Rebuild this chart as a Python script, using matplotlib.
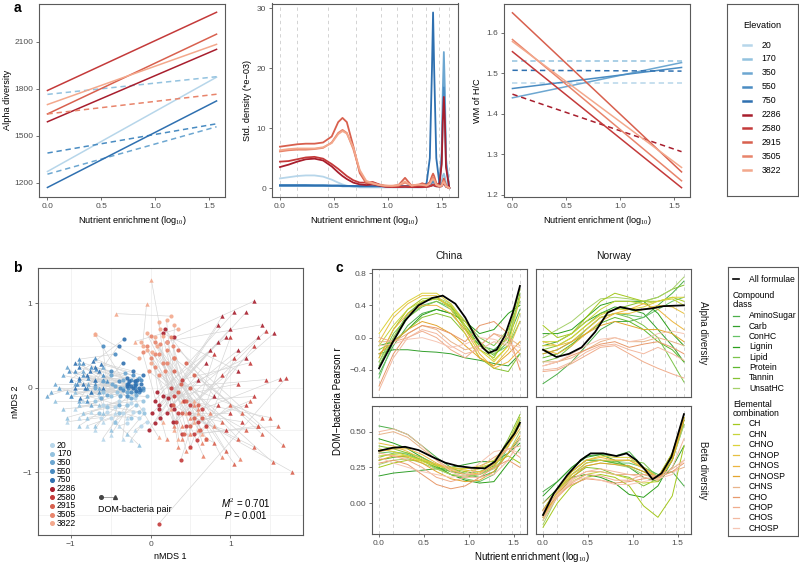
import matplotlib.pyplot as plt
from matplotlib.lines import Line2D
from matplotlib.collections import LineCollection

plt.rcParams['font.family'] = ['Liberation Sans', 'DejaVu Sans']
plt.rcParams['mathtext.fontset'] = 'custom'
plt.rcParams['mathtext.rm'] = 'Liberation Serif'
plt.rcParams['mathtext.it'] = 'Liberation Sans:italic'
plt.rcParams['mathtext.bf'] = 'Liberation Sans:bold'

W, H = 799, 564

# ---------------- data ----------------
elevations = ['20', '170', '350', '550', '750', '2286', '2580', '2915', '3505', '3822']
elev_colors = ['#b7d6ea', '#93c2df', '#6da7d1', '#4a8cc2', '#2f70b0',
               '#a81e2d', '#c43a3a', '#d8604e', '#e8846b', '#f3a88c']

# panel a: fitted lines (value at lowest / highest enrichment)
fit_x = [0.0, 1.57]
alpha_start = [1272, 1765, 1255, 1390, 1170, 1590, 1790, 1640, 1640, 1700]
alpha_end = [1875, 1878, 1558, 1577, 1723, 2053, 2290, 2150, 1766, 2085]
alpha_signif = [True, False, False, False, True, True, True, True, False, True]

hc_start = [1.475, 1.531, 1.439, 1.462, 1.507, 1.448, 1.553, 1.649, 1.583, 1.578]
hc_end = [1.475, 1.531, 1.526, 1.514, 1.505, 1.306, 1.217, 1.256, 1.234, 1.267]
hc_signif = [False, False, True, True, False, False, True, True, True, True]

# enrichment levels (dashed guides)
level_x = [0, 0.16, 0.45, 0.705, 0.94, 1.09, 1.225, 1.355, 1.477, 1.568]

# standardized density (*e-03)
dens_x = [0, .08, .16, .24, .32, .40, .48, .54, .58, .62, .68, .74, .80, .86, .92, .98,
          1.04, 1.10, 1.16, 1.22, 1.28, 1.32, 1.36, 1.39, 1.41, 1.42, 1.43, 1.45, 1.48,
          1.50, 1.51, 1.52, 1.53, 1.54, 1.57]
dens_y = [
    [1.6, 1.8, 2.0, 2.1, 2.1, 1.9, 1.4, 0.9, 0.6, 0.4, 0.2, 0.1, 0.1, 0.1, 0.1, 0.1, 0.1, 0.1,
     0.1, 0.1, 0.1, 0.1, 0.2, 0.3, 0.4, 0.5, 0.4, 0.2, 0.2, 0.3, 0.5, 0.6, 0.4, 0.2, 0.0],
    [0.4, 0.4, 0.4, 0.4, 0.4, 0.4, 0.35, 0.35, 0.3, 0.3, 0.3, 0.3, 0.3, 0.3, 0.3, 0.3, 0.3, 0.3,
     0.3, 0.3, 0.3, 0.3, 0.4, 0.6, 1.0, 1.2, 1.0, 0.5, 0.6, 1.2, 2.0, 2.4, 1.8, 0.8, 0.0],
    [0.4, 0.4, 0.4, 0.4, 0.4, 0.4, 0.35, 0.35, 0.3, 0.3, 0.3, 0.3, 0.3, 0.3, 0.3, 0.3, 0.3, 0.3,
     0.3, 0.3, 0.3, 0.3, 0.3, 0.4, 0.5, 0.6, 0.5, 0.4, 0.9, 6.0, 16.0, 22.7, 16.0, 5.0, 0.0],
    [0.5, 0.5, 0.5, 0.5, 0.45, 0.45, 0.4, 0.4, 0.4, 0.35, 0.35, 0.3, 0.3, 0.3, 0.3, 0.3, 0.3, 0.3,
     0.3, 0.3, 0.3, 0.3, 0.3, 0.5, 0.9, 1.3, 0.9, 0.4, 0.8, 4.5, 12.0, 16.8, 12.0, 4.0, 0.0],
    [0.4, 0.4, 0.4, 0.4, 0.4, 0.4, 0.4, 0.4, 0.35, 0.35, 0.35, 0.3, 0.3, 0.3, 0.3, 0.3, 0.3, 0.3,
     0.3, 0.3, 0.3, 0.4, 0.8, 5.0, 20.0, 29.3, 20.0, 5.0, 0.6, 0.5, 0.9, 1.2, 0.8, 0.3, 0.0],
    [3.5, 3.9, 4.4, 4.8, 4.9, 4.6, 3.6, 2.6, 2.0, 1.5, 0.9, 0.6, 0.5, 0.6, 0.4, 0.2, 0.15, 0.15,
     0.2, 0.15, 0.15, 0.15, 0.2, 0.3, 0.4, 0.5, 0.4, 0.3, 0.8, 4.0, 11.0, 15.2, 11.0, 3.5, 0.0],
    [4.4, 4.5, 4.8, 5.1, 5.2, 4.9, 4.0, 3.2, 2.6, 2.0, 1.3, 0.9, 0.9, 1.0, 0.6, 0.3, 0.2, 0.2,
     0.3, 0.2, 0.3, 0.2, 0.2, 0.3, 0.5, 0.6, 0.5, 0.3, 0.2, 0.3, 0.6, 0.8, 0.5, 0.2, 0.0],
    [6.9, 7.1, 7.3, 7.4, 7.4, 7.6, 8.6, 11.0, 11.7, 11.0, 7.0, 2.5, 0.8, 0.9, 0.5, 0.3, 0.3, 0.5,
     1.7, 0.4, 0.5, 0.8, 0.5, 1.0, 2.0, 2.4, 2.0, 0.8, 0.4, 0.5, 1.0, 1.6, 1.0, 0.4, 0.0],
    [6.1, 6.3, 6.4, 6.4, 6.5, 6.7, 7.6, 9.2, 9.7, 9.2, 6.5, 2.8, 1.0, 0.7, 0.5, 0.4, 0.3, 0.4,
     0.9, 0.4, 0.5, 0.6, 0.4, 0.8, 1.6, 1.8, 1.5, 0.6, 0.3, 0.4, 0.9, 1.2, 0.8, 0.3, 0.0],
    [6.3, 6.5, 6.6, 6.6, 6.6, 6.8, 7.5, 9.0, 9.5, 9.1, 6.8, 3.0, 1.2, 0.8, 0.5, 0.4, 0.4, 0.5,
     1.1, 0.4, 0.6, 0.5, 0.4, 0.7, 1.3, 1.5, 1.3, 0.5, 0.3, 0.4, 0.8, 1.0, 0.7, 0.3, 0.0],
]

# panel b: nMDS coordinates, one row per elevation (DOM = circles, bacteria = triangles)
dom_x = [
    [-0.45, -0.35, -0.25, -0.15, -0.55, -0.3, -0.1, -0.2, -0.4, -0.05, -0.6, -0.28,
     -0.5, -0.22, -0.38, -0.12, -0.62, -0.3],
    [-0.5, -0.3, -0.2, -0.1, -0.4, -0.6, -0.15, -0.05, -0.35, -0.25, -0.7, -0.45,
     -0.55, -0.28, -0.18, -0.42, -0.08, -0.65],
    [-0.45, -0.3, -0.2, -0.55, -0.35, -0.1, -0.25, -0.6, -0.4, -0.15, -0.7, -0.5,
     -0.38, -0.48, -0.28, -0.18, -0.62, -0.32],
    [-0.3, -0.2, -0.25, -0.15, -0.35, -0.22, -0.4, -0.18, -0.3, -0.5, -0.45, -0.12,
     -0.28, -0.2, -0.1, -0.38, -0.25, -0.6],
    [-0.25, -0.2, -0.15, -0.3, -0.18, -0.28, -0.12, -0.35, -0.4, -0.22, -0.33, -0.1,
     -0.22, -0.17, -0.27, -0.13, -0.2, -0.3],
    [0.05, 0.1, 0.15, 0.2, 0.08, 0.25, 0.18, 0.3, 0.12, 0.2, -0.02, 0.28,
     0.1, 0.22, 0.02, 0.3, 0.15, 0.05],
    [0.35, 0.45, 0.5, 0.3, 0.55, 0.4, 0.6, 0.25, 0.65, 0.5, 0.1, 0.38,
     0.4, 0.48, 0.58, 0.32, 0.7, 0.42],
    [0.35, 0.45, 0.3, 0.55, 0.4, 0.5, 0.62, 0.45, 0.28, 0.7, 0.35, 0.55,
     0.5, 0.38, 0.6, 0.42, 0.65, 0.3],
    [0.0, 0.1, 0.05, 0.15, -0.05, 0.2, 0.1, 0.25, -0.1, 0.05, 0.3, 0.18,
     0.05, 0.2, -0.02, 0.12, 0.28, 0.0],
    [-0.05, 0.05, 0.12, -0.1, 0.2, 0.0, 0.25, -0.15, 0.08, -0.7, 0.15, 0.3,
     0.1, -0.05, 0.2, 0.02, 0.35, -0.12],
]
dom_y = [
    [-0.22, -0.3, -0.18, -0.35, -0.28, -0.42, -0.25, -0.12, -0.15, -0.4, -0.2, -0.05,
     -0.35, -0.28, -0.08, -0.45, -0.35, -0.2],
    [-0.1, -0.2, -0.05, -0.15, -0.3, -0.05, -0.28, -0.1, 0.0, -0.35, -0.15, -0.4,
     -0.22, -0.1, -0.2, -0.05, -0.3, -0.3],
    [0.02, -0.05, 0.05, -0.08, 0.1, -0.02, -0.12, 0.08, -0.2, 0.12, 0.0, 0.15,
     -0.1, 0.05, 0.05, -0.08, -0.12, 0.18],
    [0.05, 0.0, 0.1, -0.05, -0.02, 0.15, 0.08, 0.05, -0.1, 0.2, 0.4, 0.1,
     0.0, 0.08, 0.0, 0.0, -0.05, 0.5],
    [0.02, 0.08, 0.0, 0.12, -0.03, 0.05, 0.05, 0.3, 0.5, 0.2, 0.58, 0.15,
     0.0, 0.1, 0.08, -0.02, 0.04, 0.02],
    [-0.15, -0.25, -0.1, -0.3, -0.05, -0.2, 0.7, 0.6, -0.35, 0.55, -0.5, -0.4,
     -0.2, -0.12, -0.3, -0.25, 0.65, -0.42],
    [-0.3, -0.45, -0.2, -0.1, -0.55, 0.1, -0.4, 0.0, -0.25, -0.7, -1.61, -0.85,
     -0.55, -0.3, -0.62, -0.4, -0.45, -0.15],
    [-0.05, -0.15, 0.2, -0.35, -0.3, 0.0, -0.5, 0.3, -0.2, -0.6, 0.45, 0.15,
     -0.45, 0.05, -0.2, -0.55, -0.35, 0.35],
    [0.35, 0.4, 0.25, 0.3, 0.5, 0.45, 0.15, 0.6, 0.42, 0.55, 0.35, 0.2,
     0.4, 0.3, 0.2, 0.52, 0.5, 0.62],
    [0.45, 0.6, 0.7, 0.5, 0.8, 0.3, 0.85, 0.35, 0.5, 0.64, 0.62, 0.75,
     0.78, 0.65, 0.55, 0.42, 0.7, 0.55],
]
bac_x = [
    [-0.75, -0.6, -0.5, -0.85, -0.7, -0.4, -0.3, -0.55, -0.9, -0.2, -0.65, -0.35,
     -0.8, -0.45, -0.95, -0.25, -1.05, -0.6],
    [-1.0, -0.9, -0.75, -1.1, -0.8, -0.6, -0.65, -0.95, -0.5, -0.85, -1.2, -0.15,
     -1.05, -0.7, -0.45, -1.15, -0.3, -0.9],
    [-1.1, -0.95, -1.25, -0.85, -0.8, -1.05, -0.7, -0.9, -1.15, -0.75, -0.6, -1.3,
     -1.0, -1.2, -0.9, -0.65, -1.05, -0.78],
    [-0.9, -0.8, -0.85, -0.95, -0.7, -0.75, -1.0, -0.65, -0.6, -0.8, -0.9, -0.7,
     -0.85, -0.68, -0.92, -0.78, -1.02, -0.55],
    [-0.85, -0.8, -0.95, -0.7, -0.75, -0.9, -0.65, -0.6, -0.88, -0.72, -1.0, -0.62,
     -0.82, -0.7, -0.9, -0.76, -0.6, -0.95],
    [1.05, 0.85, 1.2, 0.7, 0.95, 1.1, 0.8, 1.3, 0.6, 1.4, 0.9, 1.55,
     1.0, 1.2, 0.75, 1.35, 1.1, 0.85],
    [1.0, 1.2, 0.9, 1.1, 1.35, 1.25, 0.95, 1.45, 1.62, 1.0, 1.7, 0.8,
     1.3, 1.15, 0.85, 1.45, 1.05, 1.3],
    [1.2, 1.5, 1.1, 1.3, 0.9, 1.53, 1.0, 1.4, 1.77, 0.8, 1.66, 1.15,
     1.25, 1.4, 0.95, 1.6, 1.05, 1.35],
    [0.5, 0.6, 0.4, 0.66, 0.3, 0.89, 0.55, 0.65, 0.2, 1.12, 0.75, 0.45,
     0.4, 0.6, 0.8, 0.35, 0.5, 0.7],
    [0.4, 0.55, 0.01, -0.05, 0.35, 0.6, -0.43, -0.7, 0.7, 0.1, 0.5, 0.25,
     0.3, 0.45, 0.65, 0.15, -0.2, 0.55],
]
bac_y = [
    [-0.28, -0.4, -0.56, -0.15, -0.5, -0.45, -0.35, -0.2, -0.35, -0.5, -0.1, -0.6,
     -0.45, -0.3, -0.25, -0.62, -0.4, -0.6],
    [-0.1, -0.2, -0.05, -0.25, -0.35, -0.3, -0.2, -0.05, -0.5, -0.3, -0.15, -0.67,
     -0.35, -0.45, -0.4, 0.0, -0.55, -0.45],
    [0.15, 0.05, -0.05, 0.2, -0.1, -0.05, 0.1, 0.3, 0.0, -0.2, 0.25, -0.1,
     0.1, 0.05, -0.15, 0.0, 0.25, 0.05],
    [0.1, 0.0, 0.3, 0.2, 0.05, 0.25, -0.1, -0.05, 0.15, -0.15, 0.34, 0.35,
     0.15, 0.22, 0.05, 0.12, 0.2, 0.08],
    [0.05, 0.15, 0.0, 0.1, -0.05, 0.25, 0.2, 0.0, -0.12, 0.32, 0.1, 0.28,
     0.0, 0.25, 0.12, 0.2, 0.1, 0.3],
    [0.9, 0.55, 0.35, 0.3, 0.6, 0.45, -0.1, 1.03, 0.1, 0.75, 0.85, 0.65,
     0.7, 0.9, 0.45, 0.6, 0.2, 0.75],
    [-0.3, -0.2, 0.15, 0.05, -0.45, 0.3, -0.5, 0.1, 0.11, 0.6, 0.12, 0.4,
     0.5, -0.4, -0.2, 0.68, 0.35, -0.1],
    [-0.5, -0.35, -0.6, -0.7, -0.4, -0.88, -0.2, -0.55, -0.99, -0.65, -0.68, -0.3,
     -0.15, -0.35, -0.75, -0.45, -0.9, -0.45],
    [-0.35, -0.5, -0.6, -0.8, -0.45, -0.82, -0.2, -0.65, -0.6, -0.84, -0.3, -0.75,
     -0.45, -0.25, -0.45, -0.7, -0.55, -0.6],
    [-0.15, -0.4, 1.28, 0.99, -0.6, -0.3, 0.88, 0.64, -0.45, -0.58, -0.7, -0.25,
     -0.5, -0.3, -0.55, -0.4, 0.55, -0.15],
]

# panel c: DOM-bacteria correlations along enrichment
compound_classes = ['AminoSugar', 'Carb', 'ConHC', 'Lignin', 'Lipid', 'Protein', 'Tannin', 'UnsatHC']
compound_colors = ['#4daf4a', '#33a02c', '#66c266', '#2ca01c', '#7cc44a', '#5fb82e', '#86c232', '#a6d06a']
elements = ['CH', 'CHN', 'CHNO', 'CHNOP', 'CHNOS', 'CHNOSP', 'CHNS', 'CHO', 'CHOP', 'CHOS', 'CHOSP']
element_colors = ['#a4c81e', '#c7d43a', '#dcd23a', '#e6c042', '#ecb640', '#e3a52e',
                  '#e9b48a', '#e89a6c', '#f0ad8c', '#f3b9a0', '#f6c6b4']

cx = [0, 0.16, 0.32, 0.48, 0.64, 0.80, 0.96, 1.12, 1.28, 1.44, 1.57]
china_alpha = [
    [-0.45, -0.1, 0.15, 0.3, 0.35, 0.3, 0.1, -0.1, -0.15, 0.0, 0.35],
    [-0.2, -0.15, -0.15, -0.17, -0.18, -0.2, -0.25, -0.28, -0.32, -0.35, -0.2],
    [-0.5, -0.05, 0.25, 0.4, 0.45, 0.35, 0.15, -0.05, -0.2, -0.1, 0.2],
    [-0.1, -0.05, 0.1, 0.28, 0.35, 0.3, 0.2, 0.05, 0.1, 0.3, 0.4],
    [-0.3, 0.05, 0.25, 0.38, 0.45, 0.38, 0.2, 0.0, -0.1, 0.1, 0.45],
    [-0.35, 0.0, 0.3, 0.45, 0.48, 0.4, 0.15, -0.1, -0.22, -0.05, 0.55],
    [-0.15, -0.05, 0.1, 0.25, 0.3, 0.25, 0.05, -0.25, -0.38, -0.42, -0.2],
    [-0.3, 0.0, 0.28, 0.45, 0.5, 0.42, 0.2, -0.05, -0.2, 0.0, 0.5],
    [-0.25, 0.1, 0.35, 0.48, 0.5, 0.38, 0.12, -0.15, -0.25, 0.05, 0.6],
    [-0.1, 0.15, 0.35, 0.45, 0.48, 0.4, 0.2, -0.05, -0.28, -0.1, 0.3],
    [0.05, 0.3, 0.45, 0.55, 0.55, 0.42, 0.15, -0.15, -0.3, -0.1, 0.5],
    [-0.05, 0.25, 0.42, 0.52, 0.52, 0.35, 0.05, -0.25, -0.35, -0.15, 0.2],
    [-0.25, 0.1, 0.3, 0.4, 0.4, 0.3, 0.1, -0.2, -0.38, -0.3, -0.15],
    [-0.2, -0.05, 0.1, 0.2, 0.15, 0.05, -0.1, -0.25, -0.35, -0.2, -0.05],
    [-0.05, -0.05, 0.05, 0.15, 0.1, -0.05, -0.15, -0.1, 0.05, 0.0, -0.1],
    [-0.6, -0.2, 0.05, 0.15, 0.12, 0.05, -0.05, 0.15, 0.2, 0.05, -0.4],
    [0.0, -0.05, 0.0, 0.08, 0.0, -0.15, -0.25, -0.1, 0.05, -0.05, -0.2],
    [-0.65, -0.25, 0.0, 0.1, 0.05, -0.1, -0.2, -0.15, -0.05, -0.1, -0.3],
    [-0.1, -0.08, -0.02, 0.0, -0.05, -0.12, -0.08, 0.0, -0.02, -0.08, -0.12],
]
norway_alpha = [
    [-0.57, -0.45, -0.3, -0.1, 0.1, 0.2, 0.2, 0.25, 0.4, 0.55, 0.7],
    [-0.1, -0.05, 0.05, 0.2, 0.3, 0.38, 0.35, 0.3, 0.1, -0.1, -0.3],
    [-0.2, -0.15, -0.05, 0.1, 0.25, 0.3, 0.28, 0.25, 0.35, 0.45, 0.5],
    [0.05, 0.05, 0.1, 0.25, 0.4, 0.45, 0.45, 0.45, 0.3, 0.05, -0.1],
    [-0.3, -0.25, -0.1, 0.1, 0.25, 0.3, 0.25, 0.15, 0.0, -0.3, -0.55],
    [-0.25, -0.2, -0.08, 0.05, 0.18, 0.25, 0.2, 0.1, -0.05, -0.15, -0.3],
    [-0.15, -0.1, 0.0, 0.15, 0.3, 0.35, 0.4, 0.45, 0.5, 0.6, 0.65],
    [0.0, 0.1, 0.2, 0.35, 0.48, 0.5, 0.48, 0.45, 0.5, 0.6, 0.75],
    [0.15, 0.0, 0.05, 0.25, 0.45, 0.55, 0.5, 0.45, 0.45, 0.5, 0.45],
    [-0.05, -0.05, 0.05, 0.2, 0.35, 0.45, 0.45, 0.42, 0.45, 0.48, 0.4],
    [-0.1, -0.1, 0.0, 0.15, 0.28, 0.35, 0.35, 0.38, 0.45, 0.5, 0.5],
    [-0.05, -0.1, -0.05, 0.1, 0.25, 0.3, 0.3, 0.35, 0.4, 0.38, 0.3],
    [-0.15, -0.2, -0.1, 0.05, 0.2, 0.3, 0.35, 0.42, 0.35, 0.2, 0.1],
    [-0.2, -0.15, -0.05, 0.05, 0.15, 0.2, 0.15, 0.1, 0.1, 0.05, -0.05],
    [-0.3, -0.3, -0.25, -0.15, -0.05, 0.0, -0.05, -0.05, 0.0, -0.05, -0.1],
    [-0.35, -0.3, -0.22, -0.15, -0.08, -0.05, -0.12, -0.08, -0.05, -0.12, -0.2],
    [-0.42, -0.4, -0.32, -0.22, -0.12, -0.1, -0.2, -0.3, -0.38, -0.45, -0.5],
    [-0.4, -0.38, -0.3, -0.18, -0.1, -0.08, -0.15, -0.2, -0.12, -0.2, -0.28],
    [-0.35, -0.3, -0.2, -0.1, -0.02, 0.0, -0.05, -0.02, 0.05, 0.08, 0.05],
]
china_beta = [
    [0.54, 0.52, 0.48, 0.4, 0.32, 0.25, 0.2, 0.18, 0.22, 0.35, 0.45],
    [0.19, 0.21, 0.22, 0.23, 0.24, 0.25, 0.27, 0.29, 0.29, 0.35, 0.42],
    [0.35, 0.36, 0.34, 0.3, 0.25, 0.2, 0.17, 0.15, 0.2, 0.4, 0.58],
    [0.45, 0.42, 0.38, 0.32, 0.26, 0.2, 0.16, 0.14, 0.15, 0.28, 0.38],
    [0.32, 0.35, 0.35, 0.32, 0.27, 0.22, 0.2, 0.2, 0.25, 0.4, 0.55],
    [0.3, 0.32, 0.33, 0.3, 0.25, 0.22, 0.21, 0.22, 0.26, 0.42, 0.6],
    [0.4, 0.38, 0.35, 0.3, 0.24, 0.2, 0.18, 0.2, 0.27, 0.45, 0.62],
    [0.27, 0.3, 0.31, 0.28, 0.24, 0.2, 0.19, 0.2, 0.24, 0.35, 0.5],
    [0.25, 0.28, 0.3, 0.3, 0.27, 0.24, 0.22, 0.24, 0.28, 0.33, 0.28],
    [0.33, 0.34, 0.33, 0.3, 0.27, 0.25, 0.24, 0.25, 0.28, 0.4, 0.57],
    [0.38, 0.36, 0.33, 0.29, 0.26, 0.24, 0.24, 0.26, 0.3, 0.42, 0.6],
    [0.42, 0.4, 0.36, 0.31, 0.27, 0.25, 0.23, 0.22, 0.25, 0.4, 0.55],
    [0.36, 0.38, 0.38, 0.34, 0.28, 0.23, 0.2, 0.21, 0.27, 0.4, 0.52],
    [0.3, 0.33, 0.32, 0.28, 0.22, 0.17, 0.15, 0.16, 0.22, 0.35, 0.47],
    [0.48, 0.5, 0.46, 0.38, 0.3, 0.24, 0.2, 0.2, 0.28, 0.38, 0.4],
    [0.28, 0.3, 0.27, 0.2, 0.13, 0.1, 0.12, 0.18, 0.25, 0.3, 0.25],
    [0.35, 0.33, 0.3, 0.25, 0.18, 0.15, 0.18, 0.25, 0.32, 0.38, 0.32],
    [0.5, 0.52, 0.48, 0.4, 0.3, 0.22, 0.18, 0.18, 0.2, 0.3, 0.45],
    [0.32, 0.28, 0.25, 0.22, 0.2, 0.18, 0.2, 0.28, 0.36, 0.38, 0.35],
]
norway_beta = [
    [0.08, 0.15, 0.25, 0.33, 0.34, 0.33, 0.36, 0.25, 0.2, 0.22, 0.12],
    [0.05, 0.15, 0.25, 0.32, 0.34, 0.3, 0.25, 0.18, 0.15, 0.25, 0.4],
    [-0.05, 0.1, 0.22, 0.3, 0.3, 0.28, 0.28, 0.25, 0.18, 0.35, 0.6],
    [0.0, 0.1, 0.18, 0.2, 0.18, 0.14, 0.06, 0.04, 0.12, 0.3, 0.58],
    [-0.1, 0.08, 0.2, 0.28, 0.3, 0.29, 0.3, 0.28, 0.18, 0.3, 0.55],
    [-0.05, 0.1, 0.22, 0.3, 0.3, 0.28, 0.26, 0.22, 0.18, 0.32, 0.58],
    [-0.12, 0.05, 0.18, 0.25, 0.24, 0.2, 0.18, 0.12, 0.17, 0.35, 0.6],
    [-0.15, 0.05, 0.2, 0.26, 0.28, 0.27, 0.25, 0.2, 0.17, 0.3, 0.55],
    [-0.17, 0.0, 0.12, 0.18, 0.2, 0.18, 0.12, -0.02, -0.1, 0.05, 0.4],
    [-0.1, 0.05, 0.15, 0.2, 0.22, 0.2, 0.17, 0.14, 0.15, 0.3, 0.6],
    [-0.08, 0.08, 0.22, 0.3, 0.33, 0.32, 0.32, 0.25, 0.18, 0.35, 0.62],
    [-0.1, 0.07, 0.2, 0.28, 0.3, 0.3, 0.3, 0.25, 0.17, 0.33, 0.6],
    [-0.05, 0.1, 0.22, 0.3, 0.32, 0.3, 0.3, 0.24, 0.18, 0.33, 0.6],
    [-0.08, 0.06, 0.18, 0.26, 0.28, 0.27, 0.26, 0.22, 0.16, 0.3, 0.58],
    [0.0, 0.08, 0.17, 0.22, 0.22, 0.2, 0.2, 0.2, 0.18, 0.22, 0.25],
    [-0.05, 0.06, 0.13, 0.17, 0.16, 0.14, 0.15, 0.17, 0.18, 0.22, 0.28],
    [-0.1, 0.04, 0.14, 0.2, 0.19, 0.16, 0.16, 0.2, 0.19, 0.24, 0.3],
    [-0.12, 0.05, 0.16, 0.22, 0.24, 0.22, 0.2, 0.18, 0.16, 0.25, 0.45],
    [-0.06, 0.06, 0.15, 0.18, 0.16, 0.13, 0.13, 0.15, 0.17, 0.2, 0.3],
]
# all formulae
china_alpha_all_x = [0, 0.15, 0.29, 0.44, 0.59, 0.71, 0.85, 0.96, 1.07, 1.16, 1.22, 1.31, 1.40, 1.49, 1.57]
china_alpha_all = [-0.38, -0.06, 0.21, 0.40, 0.49, 0.52, 0.42, 0.25, 0.02, -0.13, -0.19, -0.15, 0.02, 0.31, 0.64]
norway_alpha_all_x = [0, 0.15, 0.29, 0.43, 0.58, 0.72, 0.86, 1.03, 1.2, 1.34, 1.57]
norway_alpha_all = [-0.15, -0.24, -0.2, -0.12, 0.07, 0.31, 0.38, 0.34, 0.36, 0.39, 0.40]
china_beta_all_x = [0, 0.15, 0.29, 0.44, 0.59, 0.74, 0.88, 1.03, 1.18, 1.29, 1.40, 1.51, 1.57]
china_beta_all = [0.366, 0.387, 0.394, 0.371, 0.324, 0.282, 0.259, 0.247, 0.243, 0.29, 0.394, 0.488, 0.562]
norway_beta_all_x = [0, 0.12, 0.27, 0.42, 0.53, 0.67, 0.82, 0.93, 1.04, 1.14, 1.22, 1.32, 1.43, 1.57]
norway_beta_all = [-0.084, 0.068, 0.196, 0.301, 0.348, 0.348, 0.329, 0.348, 0.30, 0.231, 0.166, 0.208, 0.324, 0.623]

# ---------------- figure ----------------
fig = plt.figure(figsize=(W / 100, H / 100), dpi=100)
FRAME = '#5a5a5a'
XLIM = (-0.0785, 1.6485)
XLAB = 'Nutrient enrichment (log$_{10}$)'


def add_ax(x0, y0, x1, y1):
    return fig.add_axes([x0 / W, 1 - y1 / H, (x1 - x0) / W, (y1 - y0) / H])


def style(ax, left=True, bottom=True):
    for s in ax.spines.values():
        s.set_color(FRAME)
        s.set_linewidth(0.8)
    ax.tick_params(length=2.5, width=0.6, color=FRAME, labelsize=6, labelcolor='#4d4d4d',
                   pad=1.5, left=left, bottom=bottom, labelleft=left, labelbottom=bottom)


def fx(x):
    return x / W


def fy(y):
    return 1 - y / H


def dashed_levels(ax):
    for xv in level_x:
        ax.axvline(xv, color='#cccccc', lw=0.6, ls=(0, (4, 4)), zorder=0)


def enrich_xaxis(ax):
    ax.set_xlim(*XLIM)
    ax.set_xticks([0, 0.5, 1.0, 1.5])


DASH = (0, (3.5, 2.5))

# a1 alpha diversity
ax = add_ax(39, 3.5, 225, 197)
for i in range(len(elevations)):
    ax.plot(fit_x, [alpha_start[i], alpha_end[i]], color=elev_colors[i], lw=1.1,
            ls='-' if alpha_signif[i] else DASH)
enrich_xaxis(ax)
ax.set_ylim(1109, 2346)
ax.set_yticks([1200, 1500, 1800, 2100])
style(ax)
ax.set_ylabel('Alpha diversity', fontsize=6.6, labelpad=2)
ax.set_xlabel(XLAB, fontsize=6.6, labelpad=3)

# a2 density
ax = add_ax(271.5, 3.5, 457.7, 197)
dashed_levels(ax)
for i in range(len(elevations)):
    ax.plot(dens_x, dens_y[i], color=elev_colors[i], lw=1.3)
enrich_xaxis(ax)
ax.set_ylim(-1.5, 30.8)
ax.set_yticks([0, 10, 20, 30])
style(ax)
ax.set_ylabel('Std. density (*e\u221203)', fontsize=6.6, labelpad=3)
ax.set_xlabel(XLAB, fontsize=6.6, labelpad=3)

# a3 H/C
ax = add_ax(504, 3.5, 690, 197)
for i in range(len(elevations)):
    ax.plot(fit_x, [hc_start[i], hc_end[i]], color=elev_colors[i], lw=1.1,
            ls='-' if hc_signif[i] else DASH)
enrich_xaxis(ax)
ax.set_ylim(1.194, 1.672)
ax.set_yticks([1.2, 1.3, 1.4, 1.5, 1.6])
style(ax)
ax.set_ylabel('WM of H/C', fontsize=6.6, labelpad=3)
ax.set_xlabel(XLAB, fontsize=6.6, labelpad=3)

# legend a
lax = add_ax(727, 4, 798, 196)
lax.set_xticks([])
lax.set_yticks([])
for s in lax.spines.values():
    s.set_color(FRAME)
    s.set_linewidth(0.8)
fig.text(fx(743), fy(26), 'Elevation', fontsize=6.6, va='center', ha='left')
for i, (lab, col) in enumerate(zip(elevations, elev_colors)):
    yy = fy(45 + 13.9 * i)
    fig.add_artist(Line2D([fx(743), fx(751)], [yy, yy], color=col, lw=1.8,
                          transform=fig.transFigure))
    fig.text(fx(761.5), yy, lab, fontsize=6.3, va='center', ha='left')

# b nMDS
ax = add_ax(38, 268, 303, 535)
ax.set_xlim(-1.41, 1.91)
ax.set_ylim(-1.74, 1.42)
ax.set_xticks([-1, 0, 1])
ax.set_yticks([-1, 0, 1])
ax.set_xticks([-0.5, 0.5, 1.5], minor=True)
ax.set_yticks([-1.5, -0.5, 0.5], minor=True)
ax.grid(which='both', color='#efefef', lw=0.5)
ax.tick_params(which='minor', length=0)
ax.set_axisbelow(True)
segs = []
for g in range(len(elevations)):
    for a, b, c, d in zip(dom_x[g], dom_y[g], bac_x[g], bac_y[g]):
        segs.append([(a, b), (c, d)])
ax.add_collection(LineCollection(segs, colors='#d4d4d4', linewidths=0.45, zorder=1))
for g in range(len(elevations)):
    ax.scatter(bac_x[g], bac_y[g], marker='^', s=10, color=elev_colors[g], lw=0, alpha=0.9, zorder=2)
    ax.scatter(dom_x[g], dom_y[g], marker='o', s=9, color=elev_colors[g], lw=0, alpha=0.9, zorder=3)
style(ax)
ax.set_xlabel('nMDS 1', fontsize=6.5, labelpad=3)
ax.set_ylabel('nMDS 2', fontsize=6.5, labelpad=2)
for i, (lab, col) in enumerate(zip(elevations, elev_colors)):
    yy = fy(445 + 8.7 * i)
    fig.add_artist(Line2D([fx(52.3)], [yy], marker='o', ms=2.6, color=col, lw=0,
                          transform=fig.transFigure))
    fig.text(fx(57), yy, lab, fontsize=6.2, va='center', ha='left')
fig.add_artist(Line2D([fx(100.7), fx(115)], [fy(496.7), fy(496.7)], color='#9a9a9a', lw=0.6,
                      transform=fig.transFigure))
fig.add_artist(Line2D([fx(100.7)], [fy(496.7)], marker='o', ms=2.6, color='#444444', lw=0,
                      transform=fig.transFigure))
fig.add_artist(Line2D([fx(115)], [fy(496.7)], marker='^', ms=2.8, color='#444444', lw=0,
                      transform=fig.transFigure))
fig.text(fx(98), fy(509.5), 'DOM-bacteria pair', fontsize=6.5, va='center', ha='left')
fig.text(fx(245.5), fy(503.5), '$M^2$ = 0.701', fontsize=7, va='center', ha='center')
fig.text(fx(245.5), fy(515), '$P$ = 0.001', fontsize=7, va='center', ha='center')

# c correlations
line_colors = compound_colors + element_colors
facets = [
    ((372, 269, 527, 397), china_alpha, china_alpha_all_x, china_alpha_all, True, False),
    ((536, 269, 691, 397), norway_alpha, norway_alpha_all_x, norway_alpha_all, False, False),
    ((372, 406, 527, 534), china_beta, china_beta_all_x, china_beta_all, True, True),
    ((536, 406, 691, 534), norway_beta, norway_beta_all_x, norway_beta_all, False, True),
]
for box, rows, ax_x, ax_y, left, bottom in facets:
    ax = add_ax(*box)
    dashed_levels(ax)
    for r, col in zip(rows, line_colors):
        ax.plot(cx, r, color=col, lw=0.7, solid_joinstyle='round')
    ax.plot(ax_x, ax_y, color='black', lw=1.3, solid_joinstyle='round')
    enrich_xaxis(ax)
    if box[1] < 400:
        ax.set_ylim(-0.735, 0.85)
        ax.set_yticks([-0.4, 0.0, 0.4, 0.8])
    else:
        ax.set_ylim(-0.217, 0.68)
        ax.set_yticks([0.0, 0.25, 0.5])
    style(ax, left=left, bottom=bottom)

fig.text(fx(449.5), fy(256), 'China', fontsize=7.5, ha='center', va='center', color='#1a1a1a')
fig.text(fx(613.5), fy(256), 'Norway', fontsize=7.5, ha='center', va='center', color='#1a1a1a')
fig.text(fx(703), fy(333), 'Alpha diversity', fontsize=7, ha='center', va='center', rotation=270,
         color='#1a1a1a')
fig.text(fx(703), fy(470), 'Beta diversity', fontsize=7, ha='center', va='center', rotation=270,
         color='#1a1a1a')
fig.text(fx(338), fy(401.5), 'DOM\u2212bacteria Pearson r', fontsize=7, ha='center', va='center',
         rotation=90)
fig.text(fx(531.5), fy(556.5), XLAB, fontsize=7, ha='center', va='center')

# legend c
lax = add_ax(728, 267, 798, 536)
lax.set_xticks([])
lax.set_yticks([])
for s in lax.spines.values():
    s.set_color(FRAME)
    s.set_linewidth(0.8)
fig.add_artist(Line2D([fx(733), fx(739)], [fy(279), fy(279)], color='black', lw=1.2,
                      transform=fig.transFigure))
fig.text(fx(749), fy(279), 'All formulae', fontsize=6.2, va='center', ha='left')
fig.text(fx(733), fy(300), 'Compound\nclass', fontsize=6.2, va='center', ha='left', linespacing=0.95)
for i, (lab, col) in enumerate(zip(compound_classes, compound_colors)):
    yy = fy(315.7 + 10.33 * i)
    fig.add_artist(Line2D([fx(733), fx(739)], [yy, yy], color=col, lw=0.9, transform=fig.transFigure))
    fig.text(fx(749), yy, lab, fontsize=6.2, va='center', ha='left')
fig.text(fx(733), fy(409), 'Elemental\ncombination', fontsize=6.2, va='center', ha='left',
         linespacing=0.95)
for i, (lab, col) in enumerate(zip(elements, element_colors)):
    yy = fy(424 + 10.43 * i)
    fig.add_artist(Line2D([fx(733), fx(739)], [yy, yy], color=col, lw=0.9, transform=fig.transFigure))
    fig.text(fx(749), yy, lab, fontsize=6.2, va='center', ha='left')

# panel letters
fig.text(fx(17), fy(8), 'a', fontsize=10, fontweight='bold', ha='center', va='center')
fig.text(fx(17), fy(268), 'b', fontsize=10, fontweight='bold', ha='center', va='center')
fig.text(fx(339), fy(268), 'c', fontsize=10, fontweight='bold', ha='center', va='center')

fig.savefig('out.png', dpi=100)
